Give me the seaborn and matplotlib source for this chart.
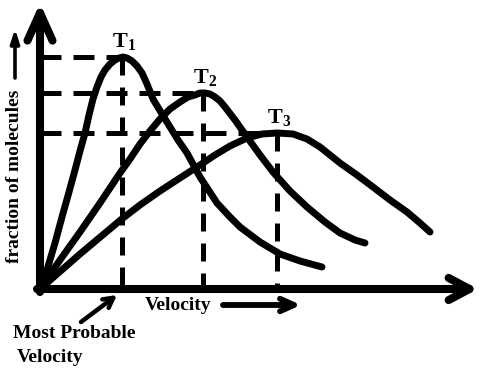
import matplotlib
matplotlib.use("Agg")
import matplotlib.pyplot as plt
import seaborn as sns
import pandas as pd

sns.set_theme(style="white")
plt.rcParams['font.family'] = ['Liberation Serif', 'DejaVu Serif']
plt.rcParams['text.color'] = 'black'
plt.rcParams['mathtext.fontset'] = 'custom'
plt.rcParams['mathtext.rm'] = 'Liberation Serif'
plt.rcParams['mathtext.bf'] = 'Liberation Serif:bold'

# ---- data (arbitrary units) ----
t1_v = [0, 7, 15, 22, 29, 35, 40, 45, 49, 53, 57, 61, 65, 70, 75, 79, 83, 87, 92, 97, 102, 107, 113, 122, 130, 138, 147, 160, 177, 190, 200, 220, 240, 260, 282]
t1_f = [0, 19, 46, 72, 97, 119, 138, 156, 174, 190, 202, 212, 219, 225, 229, 231, 232, 231, 228, 223, 216, 205, 190, 175, 162, 149, 136, 112, 86, 72, 62, 47, 35, 28, 22]

t2_v = [0, 20, 40, 60, 80, 90, 100, 110, 120, 130, 140, 148, 155, 160, 165, 170, 175, 180, 185, 195, 207, 220, 233, 250, 267, 285, 300, 315, 325]
t2_f = [0, 29, 57, 86, 116, 130, 145, 158, 170, 180, 187, 192, 194, 196, 196, 195, 192, 188, 182, 169, 152, 134, 117, 98, 82, 67, 56, 49, 46]

t3_v = [0, 40, 83, 100, 120, 140, 157, 175, 190, 207, 222, 237, 253, 267, 280, 300, 317, 333, 350, 367, 380, 390]
t3_f = [0, 35, 71, 84, 98, 111, 122, 134, 143, 151, 155, 156, 155, 150, 142, 126, 114, 102, 89, 77, 66, 57]

curve_labels = ["T_1", "T_2", "T_3"]
peak_v = [82, 163, 237]
peak_f = [232, 196, 156]

x_label = "Velocity"
y_label = "fraction of molecules"
note_lines = ["Most Probable", "Velocity"]

# ---- figure ----
fig = plt.figure(figsize=(4.87, 3.73), dpi=100)
ax = fig.add_axes([0, 0, 1, 1])
ax.set_xlim(-40, 447)
ax.set_ylim(-84, 289)
ax.axis('off')

curve_lw = 5.0
for v, f in [(t1_v, t1_f), (t2_v, t2_f), (t3_v, t3_f)]:
    df = pd.DataFrame({"v": v, "f": f})
    sns.lineplot(data=df, x="v", y="f", sort=False, estimator=None, ax=ax,
                 color="black", lw=curve_lw, solid_capstyle="round",
                 solid_joinstyle="round")

# dashed guides to each peak
for pv, pf, lab in zip(peak_v, peak_f, curve_labels):
    ax.plot([0, pv], [pf, pf], color="black", lw=3.6, ls=(0, (4.2, 2.4)),
            dash_capstyle="butt")
    ax.plot([pv, pv], [pf, 0], color="black", lw=3.6, ls=(0, (3.6, 2.4)),
            dash_capstyle="butt")
    ax.text(pv + 2, pf + 15, r"$\mathbf{" + lab + "}$",
            ha="center", va="center", fontsize=16, color="black")

# axes as thick arrows
axis_lw = 5.8
ax.annotate("", xy=(0, 286), xytext=(0, -3),
            arrowprops=dict(arrowstyle="->,head_length=20,head_width=9",
                            mutation_scale=1, lw=axis_lw, color="black",
                            shrinkA=0, shrinkB=0, capstyle="round",
                            joinstyle="round"))
ax.annotate("", xy=(438, 0), xytext=(-3, 0),
            arrowprops=dict(arrowstyle="->,head_length=15,head_width=8",
                            mutation_scale=1, lw=axis_lw, color="black",
                            shrinkA=0, shrinkB=0, capstyle="round",
                            joinstyle="round"))

# y label with small arrow
ax.text(-25, 113, y_label, rotation=90, ha="center", va="center",
        fontsize=14, fontweight="bold", color="black")
ax.annotate("", xy=(-25, 260), xytext=(-25, 211),
            arrowprops=dict(arrowstyle="-|>,head_length=8,head_width=2.6",
                            mutation_scale=1, lw=2.6, color="black",
                            shrinkA=0, shrinkB=0))

# x label with arrow
ax.text(138, -16, x_label, ha="center", va="center", fontsize=14,
        fontweight="bold", color="black")
ax.annotate("", xy=(261, -16), xytext=(183, -16),
            arrowprops=dict(arrowstyle="->,head_length=10,head_width=4.5",
                            mutation_scale=1, lw=4.2, color="black",
                            shrinkA=0, shrinkB=0, capstyle="round",
                            joinstyle="round"))

# most probable velocity note
ax.text(-27, -44, note_lines[0], ha="left", va="center", fontsize=14,
        fontweight="bold", color="black")
ax.text(-23, -68, note_lines[1], ha="left", va="center", fontsize=14,
        fontweight="bold", color="black")
ax.annotate("", xy=(77, -6), xytext=(41, -33),
            arrowprops=dict(arrowstyle="->,head_length=7,head_width=3.8",
                            mutation_scale=1, lw=3.2, color="black",
                            shrinkA=0, shrinkB=0, capstyle="round",
                            joinstyle="round"))

fig.savefig("out.png", dpi=100, facecolor="white")
